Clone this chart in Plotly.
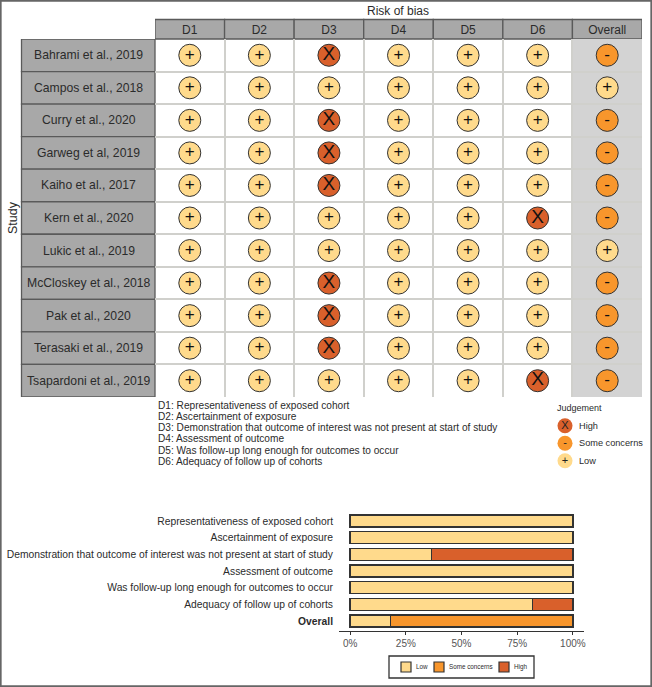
import plotly.graph_objects as go

W, H = 652, 687
FONT = "Liberation Sans"
studies = ["Bahrami et al., 2019", "Campos et al., 2018", "Curry et al., 2020", "Garweg et al, 2019",
           "Kaiho et al., 2017", "Kern et al., 2020", "Lukic et al., 2019", "McCloskey et al., 2018",
           "Pak et al., 2020", "Terasaki et al., 2019", "Tsapardoni et al., 2019"]
domains = ["D1", "D2", "D3", "D4", "D5", "D6", "Overall"]
D1 = list("+++++++++++")
D2 = list("+++++++++++")
D3 = ["X", "+", "X", "X", "X", "+", "+", "X", "X", "X", "+"]
D4 = list("+++++++++++")
D5 = list("+++++++++++")
D6 = ["+", "+", "+", "+", "+", "X", "+", "+", "+", "+", "X"]
Overall = ["-", "+", "-", "-", "-", "-", "+", "-", "-", "-", "-"]
judgements = [D1, D2, D3, D4, D5, D6, Overall]
key_lines = ["D1: Representativeness of exposed cohort", "D2: Ascertainment of exposure",
             "D3: Demonstration that outcome of interest was not present at start of study",
             "D4: Assessment of outcome", "D5: Was follow-up long enough for outcomes to occur",
             "D6: Adequacy of follow up of cohorts"]
legend_names = ["High", "Some concerns", "Low"]
legend_glyphs = ["X", "-", "+"]
bar_labels = ["Representativeness of exposed cohort", "Ascertainment of exposure",
              "Demonstration that outcome of interest was not present at start of study",
              "Assessment of outcome", "Was follow-up long enough for outcomes to occur",
              "Adequacy of follow up of cohorts", "<b>Overall</b>"]
low_pct = [100, 100, 36.4, 100, 100, 81.8, 18.2]
some_pct = [0, 0, 0, 0, 0, 0, 81.8]
high_pct = [0, 0, 63.6, 0, 0, 18.2, 0]
pct_ticks = [0, 25, 50, 75, 100]
bar_series = ["Low", "Some concerns", "High"]

C = {"+": "#FFDA8C", "-": "#F8962C", "X": "#D9602B"}
TXT = "#2b2b2b"

def px(x): return x / W
def py(y): return 1 - y / H

fig = go.Figure()

# traffic-light grid
for dom, vals in zip(domains, judgements):
    fig.add_trace(go.Scatter(
        x=[dom] * len(studies), y=studies, mode="markers+text", text=vals,
        textposition="middle center", cliponaxis=False, showlegend=False,
        textfont=dict(family=FONT, size=[19 if v == "X" else 17 for v in vals], color="#111"),
        marker=dict(size=22, color=[C[v] for v in vals], line=dict(color="#333", width=1)),
        xaxis="x", yaxis="y"))

# judgement key
fig.add_trace(go.Scatter(
    x=[0, 0, 0], y=legend_names, mode="markers+text", text=legend_glyphs,
    textposition="middle center", showlegend=False, cliponaxis=False,
    textfont=dict(family=FONT, size=11, color="#222"),
    marker=dict(size=15, color=[C[g] for g in legend_glyphs], line=dict(width=0)),
    xaxis="x3", yaxis="y3"))

# summary bars
for name, vals, col in zip(bar_series, [low_pct, some_pct, high_pct], [C["+"], C["-"], C["X"]]):
    fig.add_trace(go.Bar(
        y=bar_labels, x=vals, name=name, orientation="h", width=0.72, showlegend=False,
        marker=dict(color=col, line=dict(color="#333", width=1.3)),
        xaxis="x2", yaxis="y2"))

# summary-bar key: the box spans the x4 axis, whose units are page pixels
key_x = [406, 439, 504]
fig.add_trace(go.Scatter(
    x=key_x, y=[0, 0, 0], mode="markers", showlegend=False, cliponaxis=False,
    marker=dict(symbol="square", size=10, color=[C["+"], C["-"], C["X"]], line=dict(color="#333", width=1.2)),
    xaxis="x4", yaxis="y4"))
fig.add_trace(go.Scatter(
    x=[v + 10 for v in key_x], y=[0, 0, 0], mode="text", text=bar_series, textposition="middle right",
    showlegend=False, cliponaxis=False, textfont=dict(family=FONT, size=6.3, color=TXT),
    xaxis="x4", yaxis="y4"))

shapes = []
HEAD = dict(type="rect", fillcolor="#A8A8A8", line=dict(color="#5a5a5a", width=1.3), layer="below")
for i in range(len(domains)):
    shapes.append(dict(HEAD, xref="x", yref="paper", x0=i - .5, x1=i + .5, y0=py(39), y1=py(19.5)))
for i in range(len(studies)):
    shapes.append(dict(HEAD, xref="paper", yref="y", x0=px(21.5), x1=px(155), y0=i - .5, y1=i + .5))
shapes.append(dict(type="rect", xref="x", yref="y", x0=5.5, x1=6.5, y0=-.5, y1=10.5,
                   fillcolor="#D3D3D3", line=dict(width=0), layer="below"))
shapes.append(dict(type="rect", xref="paper", yref="paper", x0=0.001, x1=0.999, y0=0.001, y1=0.999,
                   line=dict(color="#666", width=2), fillcolor="rgba(0,0,0,0)"))
shapes.append(dict(type="rect", xref="paper", yref="paper", x0=px(389), x1=px(534), y0=py(678), y1=py(656),
                   line=dict(color="#333", width=1.3), fillcolor="white", layer="below"))

TXTANN = dict(xref="paper", yref="paper", showarrow=False, xanchor="center", yanchor="middle")
ann = [dict(TXTANN, text="Risk of bias", x=px(398), y=py(11), font=dict(size=12, color=TXT)),
       dict(TXTANN, text="Study", x=px(13), y=py(218), textangle=-90, font=dict(size=12.5, color=TXT)),
       dict(TXTANN, text="Judgement", x=px(579), y=py(408), font=dict(size=9, color=TXT))]
for s in studies:
    ann.append(dict(TXTANN, text=s, yref="y", x=px(88.5), y=s, font=dict(size=12.2, color=TXT)))
for i, line in enumerate(key_lines):
    ann.append(dict(TXTANN, text=line, x=px(156), y=py(405.2 + i * 11.2), xanchor="left",
                    font=dict(size=10.15, color=TXT)))

fig.update_layout(
    width=W, height=H, margin=dict(l=0, r=0, t=0, b=0, autoexpand=False), paper_bgcolor="white", plot_bgcolor="white",
    font=dict(family=FONT, color=TXT), barmode="stack", shapes=shapes, annotations=ann,
    xaxis=dict(domain=[px(155), px(642)], side="top", type="category", categoryorder="array", categoryarray=domains,
               range=[-.5, 6.5], tickson="boundaries", showgrid=True, gridcolor="#D0D0CC", gridwidth=1.5,
               ticklen=0, tickfont=dict(size=12, color=TXT), ticklabelstandoff=2, zeroline=False, showline=False,
               automargin=False),
    yaxis=dict(domain=[py(397), py(39)], type="category", categoryorder="array", categoryarray=studies,
               range=[10.5, -.5], tickson="boundaries", showgrid=True, gridcolor="#D0D0CC", gridwidth=1.5,
               ticklen=0, showticklabels=False, zeroline=False, showline=False, anchor="x", automargin=False),
    xaxis2=dict(domain=[px(339), px(584)], range=[-5, 105], tickvals=pct_ticks, ticktext=[f"{v}%" for v in pct_ticks],
                anchor="y2", showgrid=False, zeroline=False, showline=True, linecolor="#333", linewidth=1.3,
                ticks="outside", ticklen=3, tickcolor="#333", tickfont=dict(size=10, color="#555"), automargin=False),
    yaxis2=dict(domain=[py(631), py(511)], type="category", categoryorder="array", categoryarray=bar_labels,
                range=[6.6, -.6], anchor="x2", showgrid=False, zeroline=False, ticks="", ticklen=0,
                ticklabelstandoff=5, tickfont=dict(size=10.3, color=TXT), automargin=False),
    xaxis3=dict(domain=[px(555), px(575)], range=[-1, 1], anchor="y3", visible=False, automargin=False),
    yaxis3=dict(domain=[py(469.5), py(417)], type="category", categoryorder="array", categoryarray=legend_names,
                range=[2.5, -.5], anchor="x3", side="right", showgrid=False, zeroline=False, showline=False,
                ticklen=0, ticklabelstandoff=3, tickfont=dict(size=9.2, color=TXT), automargin=False),
    xaxis4=dict(domain=[px(389), px(534)], range=[389, 534], anchor="y4", visible=False, automargin=False),
    yaxis4=dict(domain=[py(678), py(656)], range=[-1, 1], anchor="x4", visible=False, automargin=False),
)

fig.write_html("out.html", config=dict(displayModeBar=False),
               post_script="document.body.style.margin='0';document.body.style.overflow='hidden';")
